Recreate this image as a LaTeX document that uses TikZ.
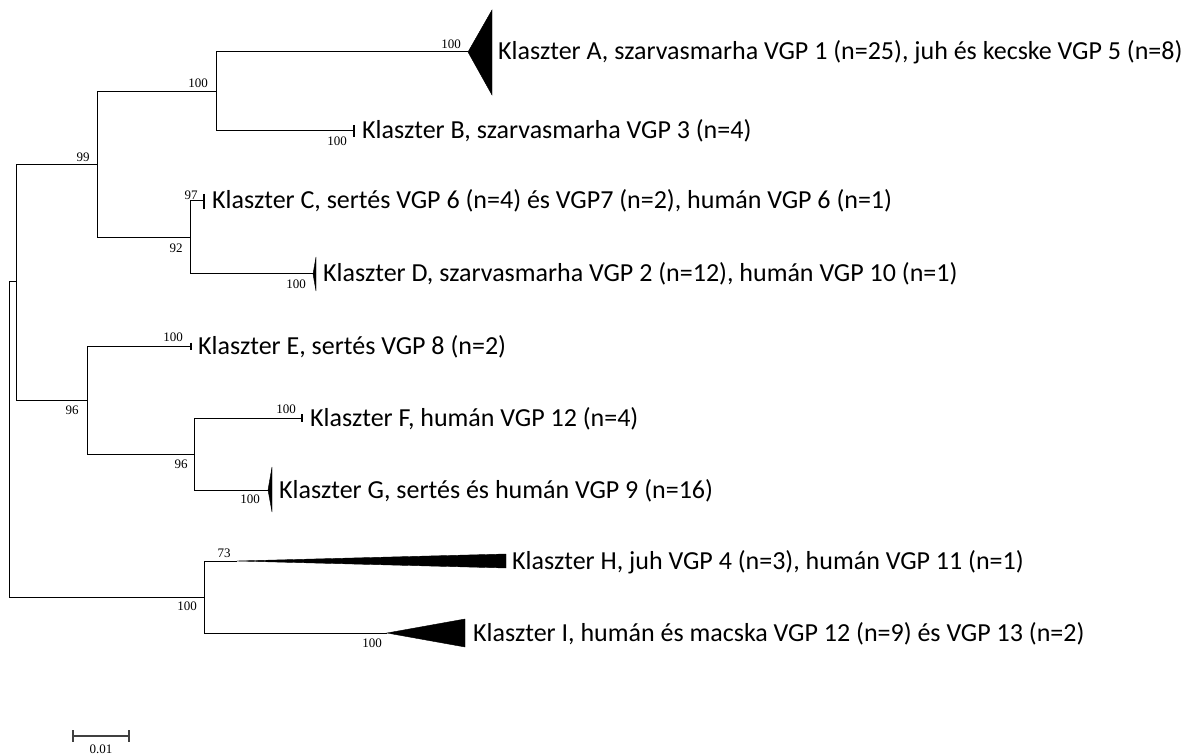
\documentclass[tikz,border=0pt]{standalone}
\usepackage{fontspec}
\setmainfont{Carlito}
\newfontfamily\numfont{Liberation Serif}
\begin{document}
\begin{tikzpicture}[x=1pt,y=-1pt,
  branch/.style={line width=1pt, line join=miter},
  tick/.style={line width=1.2pt},
  clade/.style={fill=black, draw=black, line width=0.4pt, line join=miter},
  boot/.style={font=\numfont\fontsize{13}{13}\selectfont, inner sep=0pt},
  taxon/.style={font=\fontsize{26}{26}\selectfont, anchor=base west, inner sep=0pt},
  scalebar/.style={line width=1.4pt, draw=black!75}]
\useasboundingbox (0,0) rectangle (1203,754);

% internal nodes (x = branch length, y = vertical position of the node bar)
\coordinate (root) at (9.5,440);
\coordinate (n1)   at (16,282);
\coordinate (nABCD) at (97,164.5);
\coordinate (nAB)  at (216,91.5);
\coordinate (nCD)  at (190,237.5);
\coordinate (nEFG) at (87,400);
\coordinate (nFG)  at (194,454);
\coordinate (nHI)  at (204,597);

% tips
\coordinate (tA) at (468,52);
\coordinate (tB) at (354,131);
\coordinate (tC) at (204,201);
\coordinate (tD) at (313,274);
\coordinate (tE) at (191,346);
\coordinate (tF) at (302,418);
\coordinate (tG) at (268,490);
\coordinate (tH) at (237,561);
\coordinate (tI) at (387,633);

% branches
\draw[branch] (root) |- (n1);
\draw[branch] (root) |- (nHI);
\draw[branch] (n1) |- (nABCD);
\draw[branch] (n1) |- (nEFG);
\draw[branch] (nABCD) |- (nAB);
\draw[branch] (nABCD) |- (nCD);
\draw[branch] (nAB) |- (tA);
\draw[branch] (nAB) |- (tB);
\draw[branch] (nCD) |- (tC);
\draw[branch] (nCD) |- (tD);
\draw[branch] (nEFG) |- (tE);
\draw[branch] (nEFG) |- (nFG);
\draw[branch] (nFG) |- (tF);
\draw[branch] (nFG) |- (tG);
\draw[branch] (nHI) |- (tH);
\draw[branch] (nHI) |- (tI);

% collapsed clades
\draw[clade] (tA) -- ++(24,-42) -- ++(0,85) -- cycle;
\draw[tick] (tB) ++(0,-6) -- ++(0,12);
\draw[tick] (tC) ++(0,-7) -- ++(0,15);
\draw[clade] (tD) -- ++(3,-17) -- ++(0,34) -- cycle;
\draw[tick] (tE) ++(0,-3.5) -- ++(0,7);
\draw[tick] (tF) ++(0,-4) -- ++(0,8);
\draw[clade] (tG) -- ++(4,-23) -- ++(0,45) -- cycle;
\draw[clade] (tH) -- ++(269,-7) -- ++(0,14) -- cycle;
\draw[clade] (tI) -- ++(78,-14) -- ++(0,28) -- cycle;

% bootstrap values
\node[boot] (bA)    at (451,44)  {100};
\node[boot] (bAB)   at (198,83)  {100};
\node[boot] (bABCD) at (83,157)  {99};
\node[boot] (bB)    at (337,141) {100};
\node[boot] (bC)    at (191,195) {97};
\node[boot] (bCD)   at (176,248) {92};
\node[boot] (bD)    at (296,284) {100};
\node[boot] (bE)    at (173,337) {100};
\node[boot] (bEFG)  at (72,410)  {96};
\node[boot] (bF)    at (286,409) {100};
\node[boot] (bFG)   at (181,464) {96};
\node[boot] (bG)    at (250,499) {100};
\node[boot] (bH)    at (224,553) {73};
\node[boot] (bHI)   at (187,606) {100};
\node[boot] (bI)    at (372,643) {100};

% cluster labels
\node[taxon] (lA) at (498,60)  {Klaszter A, szarvasmarha VGP 1 (n=25), juh és kecske VGP 5 (n=8)};
\node[taxon] (lB) at (362,139) {Klaszter B, szarvasmarha VGP 3 (n=4)};
\node[taxon] (lC) at (212,209) {Klaszter C, sertés VGP 6 (n=4) és VGP7 (n=2), humán VGP 6 (n=1)};
\node[taxon] (lD) at (323,282) {Klaszter D, szarvasmarha VGP 2 (n=12), humán VGP 10 (n=1)};
\node[taxon] (lE) at (198,354) {Klaszter E, sertés VGP 8 (n=2)};
\node[taxon] (lF) at (310,426) {Klaszter F, humán VGP 12 (n=4)};
\node[taxon] (lG) at (279,498) {Klaszter G, sertés és humán VGP 9 (n=16)};
\node[taxon] (lH) at (512,569) {Klaszter H, juh VGP 4 (n=3), humán VGP 11 (n=1)};
\node[taxon] (lI) at (473,641) {Klaszter I, humán és macska VGP 12 (n=9) és VGP 13 (n=2)};

% scale bar
\coordinate (s0) at (73,736);
\coordinate (s1) at (129,736);
\draw[scalebar] (s0) -- (s1);
\draw[scalebar] (s0) ++(0,-6) -- ++(0,12);
\draw[scalebar] (s1) ++(0,-6) -- ++(0,12);
\node[boot] (sl) at (101,749) {0.01};
\end{tikzpicture}
\end{document}
